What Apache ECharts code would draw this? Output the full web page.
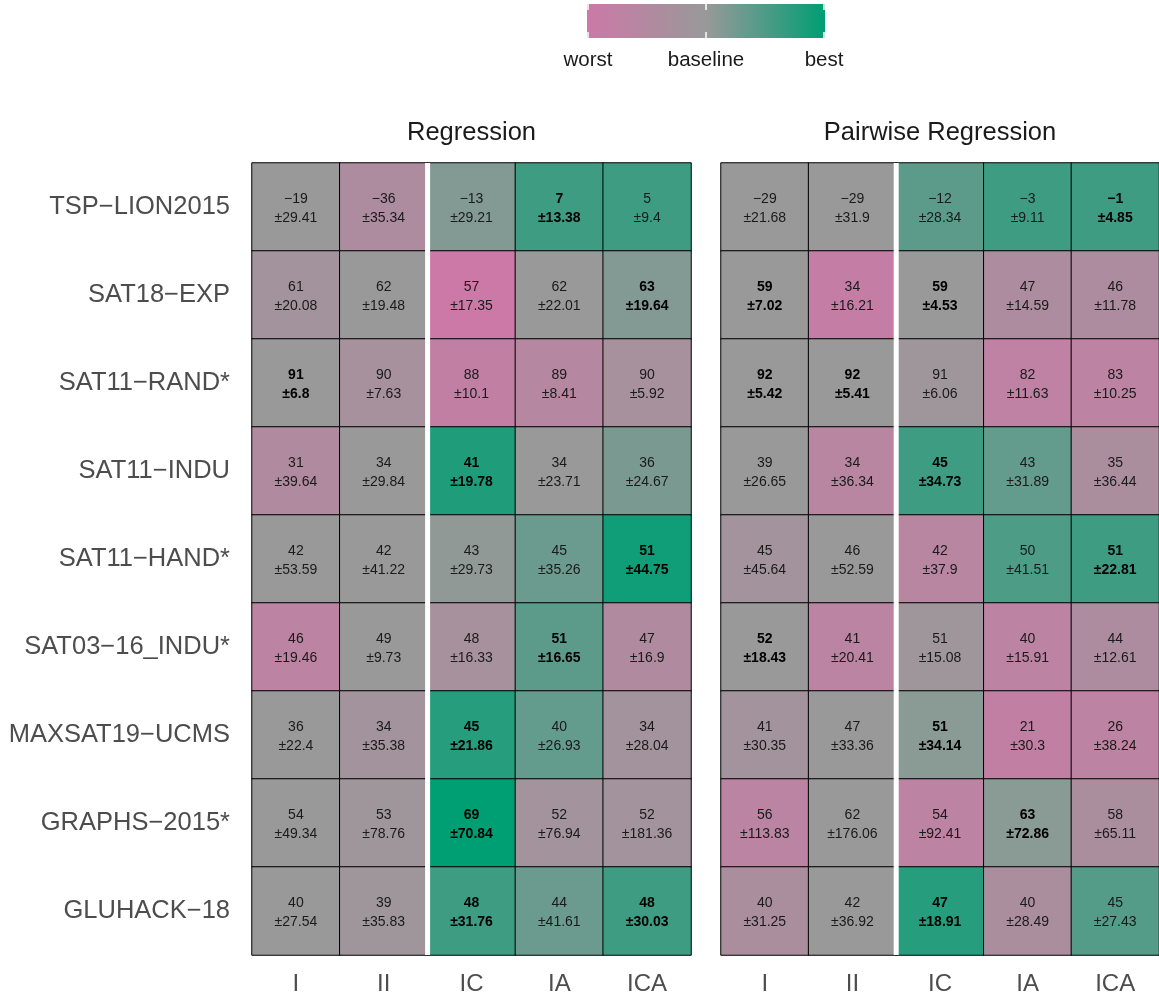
<!DOCTYPE html>
<html>
<head>
<meta charset="utf-8">
<script src="https://cdn.jsdelivr.net/npm/echarts@6/dist/echarts.min.js"></script>
<style>
html,body{margin:0;padding:0;background:#fff;}
#main{width:1159px;height:1000px;}
</style>
</head>
<body>
<div id="main"></div>
<script>
// rows (top to bottom) and columns
var scenarios = ['TSP\u2212LION2015','SAT18\u2212EXP','SAT11\u2212RAND*','SAT11\u2212INDU','SAT11\u2212HAND*','SAT03\u221216_INDU*','MAXSAT19\u2212UCMS','GRAPHS\u22122015*','GLUHACK\u221218'];
var methods = ['I','II','IC','IA','ICA'];
var panels = ['Regression','Pairwise Regression'];

/***********Regression**************/
var regMean = [
	[-19,-36,-13,7,5],
	[61,62,57,62,63],
	[91,90,88,89,90],
	[31,34,41,34,36],
	[42,42,43,45,51],
	[46,49,48,51,47],
	[36,34,45,40,34],
	[54,53,69,52,52],
	[40,39,48,44,48]
];
var regStd = [
	[29.41,35.34,29.21,13.38,9.4],
	[20.08,19.48,17.35,22.01,19.64],
	[6.8,7.63,10.1,8.41,5.92],
	[39.64,29.84,19.78,23.71,24.67],
	[53.59,41.22,29.73,35.26,44.75],
	[19.46,9.73,16.33,16.65,16.9],
	[22.4,35.38,21.86,26.93,28.04],
	[49.34,78.76,70.84,76.94,181.36],
	[27.54,35.83,31.76,41.61,30.03]
];
// colour score: -1 worst, 0 baseline, 1 best
var regScore = [
	[0,-0.4,0.15,0.6,0.6],
	[-0.2,0,-1,0,0.15],
	[0,-0.25,-0.8,-0.55,-0.25],
	[-0.45,0,0.8,0,0.2],
	[0,0,0.05,0.3,0.9],
	[-0.7,0,-0.25,0.4,-0.45],
	[0,-0.2,0.75,0.35,-0.2],
	[0,-0.1,1,-0.2,-0.2],
	[0,-0.1,0.6,0.3,0.6]
];
var regBest = [
	[0,0,0,1,0],
	[0,0,0,0,1],
	[1,0,0,0,0],
	[0,0,1,0,0],
	[0,0,0,0,1],
	[0,0,0,1,0],
	[0,0,1,0,0],
	[0,0,1,0,0],
	[0,0,1,0,1]
];

/***********Pairwise Regression**************/
var pairMean = [
	[-29,-29,-12,-3,-1],
	[59,34,59,47,46],
	[92,92,91,82,83],
	[39,34,45,43,35],
	[45,46,42,50,51],
	[52,41,51,40,44],
	[41,47,51,21,26],
	[56,62,54,63,58],
	[40,42,47,40,45]
];
var pairStd = [
	[21.68,31.9,28.34,9.11,4.85],
	[7.02,16.21,4.53,14.59,11.78],
	[5.42,5.41,6.06,11.63,10.25],
	[26.65,36.34,34.73,31.89,36.44],
	[45.64,52.59,37.9,41.51,22.81],
	[18.43,20.41,15.08,15.91,12.61],
	[30.35,33.36,34.14,30.3,38.24],
	[113.83,176.06,92.41,72.86,65.11],
	[31.25,36.92,18.91,28.49,27.43]
];
var pairScore = [
	[0,0,0.4,0.6,0.6],
	[0,-0.85,0,-0.4,-0.4],
	[0,0,-0.1,-0.75,-0.7],
	[0,-0.6,0.6,0.35,-0.35],
	[-0.2,0,-0.6,0.5,0.6],
	[0,-0.65,-0.1,-0.7,-0.4],
	[-0.2,0,0.1,-0.8,-0.7],
	[-0.65,0,-0.7,0.1,-0.35],
	[-0.35,0,0.75,-0.35,0.45]
];
var pairBest = [
	[0,0,0,0,1],
	[1,0,1,0,0],
	[1,1,0,0,0],
	[0,0,1,0,0],
	[0,0,0,0,1],
	[1,0,0,0,0],
	[0,0,1,0,0],
	[0,0,0,1,0],
	[0,0,1,0,0]
];

var legendText = ['worst','baseline','best'];
var colWorst = '#CC79A7', colBase = '#999999', colBest = '#009E73';
var FONT = '"Liberation Sans", Arial, Helvetica, sans-serif';

function buildCells(mean, std, score, best){
	var out = [];
	for (var r = 0; r < scenarios.length; r++) {
		for (var c = 0; c < methods.length; c++) {
			out.push([c, r, score[r][c], mean[r][c], std[r][c], best[r][c]]);
		}
	}
	return out;
}

function cellLabel(p){
	var d = p.data;
	var m = String(d[3]).replace('-', '\u2212');
	var k = d[5] ? 'b' : 'n';
	return '{' + k + '|' + m + '}\n{' + k + '|\u00b1' + d[4] + '}';
}

function separator(params, api){
	var a = api.coord([1, 0]), b = api.coord([2, 0]);
	var x = (a[0] + b[0]) / 2;
	var cs = params.coordSys;
	return {
		type: 'line',
		shape: {x1: x, y1: cs.y, x2: x, y2: cs.y + cs.height},
		style: {stroke: '#ffffff', lineWidth: 5}
	};
}

var labelRich = {
	n: {fontSize: 14, lineHeight: 19, color: '#1a1a1a', fontFamily: FONT},
	b: {fontSize: 14, lineHeight: 19, color: '#000', fontWeight: 'bold', fontFamily: FONT}
};

function xAxisOf(idx){
	return {
		type: 'category', gridIndex: idx, data: methods, position: 'bottom',
		axisLine: {show: false}, axisTick: {show: false}, splitLine: {show: false},
		axisLabel: {fontSize: 24, color: '#4d4d4d', margin: 17, fontFamily: FONT}
	};
}
function yAxisOf(idx, showLabel){
	return {
		type: 'category', gridIndex: idx, data: scenarios, inverse: true,
		axisLine: {show: false}, axisTick: {show: false}, splitLine: {show: false},
		axisLabel: {show: showLabel, fontSize: 25.5, color: '#4d4d4d', margin: 22, fontFamily: FONT}
	};
}

// legend bar + facet titles
var graphics = [
	{type: 'rect', shape: {x: 587, y: 4, width: 238, height: 34},
		style: {fill: new echarts.graphic.LinearGradient(0, 0, 1, 0, [
			{offset: 0, color: colWorst}, {offset: 0.5, color: colBase}, {offset: 1, color: colBest}])}}
];
var tickX = [588, 706, 824];
tickX.forEach(function(x, i){
	graphics.push({type: 'line', shape: {x1: x, y1: 4, x2: x, y2: 10}, style: {stroke: '#fff', lineWidth: 1.5}});
	graphics.push({type: 'line', shape: {x1: x, y1: 32, x2: x, y2: 38}, style: {stroke: '#fff', lineWidth: 1.5}});
	graphics.push({type: 'text', x: x, y: 60, style: {text: legendText[i], fill: '#1a1a1a', fontSize: 20.5,
		fontFamily: FONT, textAlign: 'center', textVerticalAlign: 'middle'}});
});
[471.5, 940].forEach(function(x, i){
	graphics.push({type: 'text', x: x, y: 133, style: {text: panels[i], fill: '#1a1a1a', fontSize: 25.5,
		fontFamily: FONT, textAlign: 'center', textVerticalAlign: 'middle'}});
});

var chart = echarts.init(document.getElementById('main'));
var option = {
	backgroundColor: '#ffffff',
	animation: false,
	textStyle: {fontFamily: FONT},
	grid: [
		{left: 252, top: 163, width: 439, height: 792},
		{left: 721, top: 163, width: 438, height: 792}
	],
	xAxis: [xAxisOf(0), xAxisOf(1)],
	yAxis: [yAxisOf(0, true), yAxisOf(1, false)],
	visualMap: {
		type: 'continuous', show: false, min: -1, max: 1, dimension: 2,
		seriesIndex: [0, 1],
		inRange: {color: [colWorst, colBase, colBest]}
	},
	graphic: graphics,
	series: [
		{
			type: 'heatmap', xAxisIndex: 0, yAxisIndex: 0,
			data: buildCells(regMean, regStd, regScore, regBest),
			itemStyle: {borderColor: '#000', borderWidth: 1},
			label: {show: true, formatter: cellLabel, rich: labelRich, offset: [0, 2]},
			emphasis: {disabled: true}
		},
		{
			type: 'heatmap', xAxisIndex: 1, yAxisIndex: 1,
			data: buildCells(pairMean, pairStd, pairScore, pairBest),
			itemStyle: {borderColor: '#000', borderWidth: 1},
			label: {show: true, formatter: cellLabel, rich: labelRich, offset: [0, 2]},
			emphasis: {disabled: true}
		},
		{type: 'custom', xAxisIndex: 0, yAxisIndex: 0, z: 10, data: [[0, 0]], renderItem: separator, silent: true},
		{type: 'custom', xAxisIndex: 1, yAxisIndex: 1, z: 10, data: [[0, 0]], renderItem: separator, silent: true}
	]
};
chart.setOption(option);
</script>
</body>
</html>
